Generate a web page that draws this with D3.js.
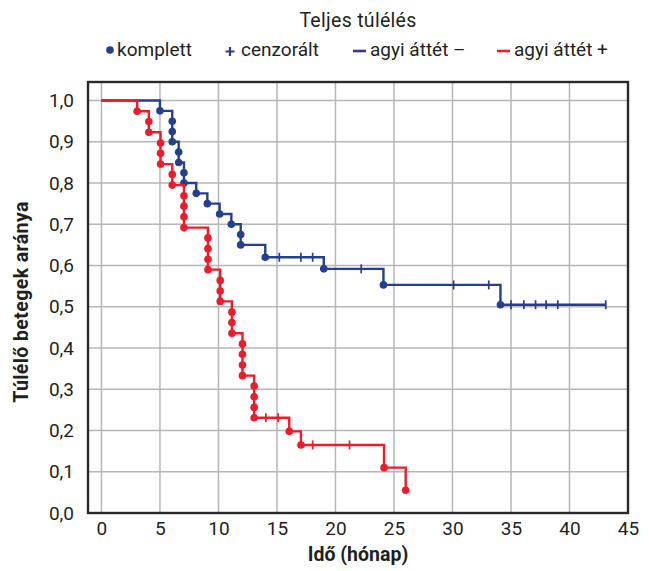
<!DOCTYPE html>
<html>
<head>
<meta charset="utf-8">
<script src="https://cdn.jsdelivr.net/npm/d3@7"></script>
<style>
  body { margin: 0; background: #fff; }
  svg text { font-family: Roboto, "Noto Sans", sans-serif; fill: #231f20; }
</style>
</head>
<body>
<script>
// agyi áttét – (blue): time and survival at each death, censored times
var blueTimes = [5, 6.05, 6.05, 6.05, 6.6, 6.6, 7.05, 7.05, 8.1, 9.05, 10.1, 11.1, 11.9, 11.9, 14, 19, 24.1, 34.1]
var blueSurv = [0.975, 0.95, 0.925, 0.90, 0.875, 0.85, 0.825, 0.80, 0.775, 0.75, 0.725, 0.70, 0.675, 0.65, 0.62, 0.592, 0.553, 0.505]
var blueCensored = [15.2, 17.05, 18.05, 22.2, 30.1, 33.1, 35, 36.1, 37.1, 38, 39, 43.1]

// agyi áttét + (red)
var redTimes = [3.05, 4.05, 4.05, 5.05, 5.05, 5.05, 6.05, 6.05, 7.05, 7.05, 7.05, 7.05,
    9.1, 9.1, 9.1, 9.1, 10.15, 10.15, 10.15, 11.15, 11.15, 11.15, 12.05, 12.05, 12.05, 12.05,
    13.05, 13.05, 13.05, 13.05, 16.05, 17.05, 24.15, 26]
var redSurv = [0.974, 0.949, 0.923, 0.897, 0.872, 0.846, 0.821, 0.795, 0.769, 0.744, 0.718, 0.692,
    0.667, 0.641, 0.615, 0.590, 0.564, 0.538, 0.513, 0.487, 0.462, 0.436, 0.410, 0.385, 0.359, 0.333,
    0.308, 0.282, 0.256, 0.231, 0.198, 0.165, 0.110, 0.055]
var redCensored = [14.05, 15.1, 18.05, 21.2]

var xTicks = [0, 5, 10, 15, 20, 25, 30, 35, 40, 45]
var yTicks = [0, 0.1, 0.2, 0.3, 0.4, 0.5, 0.6, 0.7, 0.8, 0.9, 1.0]

var blue = '#243f8e'
var red = '#ec1c2a'

var pLeft = 88, pTop = 82, pRight = 628, pBottom = 513

var svg = d3.select('body').append('svg')
    .attr('width', 649)
    .attr('height', 571)

var x = d3.scaleLinear().domain([-1.15, 45]).range([pLeft, pRight])
var y = d3.scaleLinear().domain([0, 1.045]).range([pBottom, pTop])

// grid
svg.append('g').selectAll('line')
    .data(xTicks)
    .enter()
    .append('line')
    .attr('x1', function (d) { return x(d) })
    .attr('x2', function (d) { return x(d) })
    .attr('y1', pTop)
    .attr('y2', pBottom)
    .attr('stroke', '#b6b6b8')
    .attr('stroke-width', 1.5)

svg.append('g').selectAll('line')
    .data(yTicks)
    .enter()
    .append('line')
    .attr('x1', pLeft)
    .attr('x2', pRight)
    .attr('y1', function (d) { return y(d) })
    .attr('y2', function (d) { return y(d) })
    .attr('stroke', '#b6b6b8')
    .attr('stroke-width', 1.5)

// axes labels
var xAxis = svg.append('g')
    .attr('transform', 'translate(0,' + pBottom + ')')
    .call(d3.axisBottom(x).tickValues(xTicks).tickSize(0).tickPadding(9))
xAxis.select('.domain').remove()
xAxis.selectAll('text').style('font-size', '19px').style('font-family', 'Roboto').style('fill', '#231f20')

var yAxis = svg.append('g')
    .attr('transform', 'translate(' + pLeft + ',0)')
    .call(d3.axisLeft(y).tickValues(yTicks).tickSize(0).tickPadding(14)
        .tickFormat(function (d) { return d3.format('.1f')(d).replace('.', ',') }))
yAxis.select('.domain').remove()
yAxis.selectAll('text').style('font-size', '19px').style('font-family', 'Roboto').style('fill', '#231f20')

function survAt(times, surv, t) {
    var s = 1
    for (var i = 0; i < times.length; i++) {
        if (times[i] <= t) s = surv[i]
    }
    return s
}

function drawGroup(times, surv, censored, color) {
    var pts = [[0, 1]]
    for (var i = 0; i < times.length; i++) pts.push([times[i], surv[i]])
    var lastT = d3.max(censored.concat(times))
    pts.push([lastT, survAt(times, surv, lastT)])

    var line = d3.line()
        .x(function (d) { return x(d[0]) })
        .y(function (d) { return y(d[1]) })
        .curve(d3.curveStepAfter)

    svg.append('path')
        .datum(pts)
        .attr('d', line)
        .attr('fill', 'none')
        .attr('stroke', color)
        .attr('stroke-width', 2.4)

    svg.append('g').selectAll('line')
        .data(censored)
        .enter()
        .append('line')
        .attr('x1', function (d) { return x(d) })
        .attr('x2', function (d) { return x(d) })
        .attr('y1', function (d) { return y(survAt(times, surv, d)) - 4.5 })
        .attr('y2', function (d) { return y(survAt(times, surv, d)) + 4.5 })
        .attr('stroke', color)
        .attr('stroke-width', 1.7)

    svg.append('g').selectAll('circle')
        .data(times)
        .enter()
        .append('circle')
        .attr('r', 3.8)
        .attr('cx', function (d) { return x(d) })
        .attr('cy', function (d, i) { return y(surv[i]) })
        .attr('fill', color)
}

drawGroup(blueTimes, blueSurv, blueCensored, blue)
drawGroup(redTimes, redSurv, redCensored, red)

// frame
svg.append('rect')
    .attr('x', pLeft)
    .attr('y', pTop)
    .attr('width', pRight - pLeft)
    .attr('height', pBottom - pTop)
    .attr('fill', 'none')
    .attr('stroke', '#2a2a2c')
    .attr('stroke-width', 2.4)

// titles
svg.append('text')
    .attr('x', 358)
    .attr('y', 561)
    .attr('text-anchor', 'middle')
    .style('font-size', '19.5px')
    .style('font-weight', 'bold')
    .text('Idő (hónap)')

svg.append('text')
    .attr('transform', 'translate(28,302) rotate(-90)')
    .attr('text-anchor', 'middle')
    .style('font-size', '19.5px')
    .style('font-weight', 'bold')
    .style('letter-spacing', '0.4px')
    .text('Túlélő betegek aránya')

// legend
svg.append('text')
    .attr('x', 358)
    .attr('y', 27)
    .attr('text-anchor', 'middle')
    .style('font-size', '19.5px')
    .style('letter-spacing', '0.3px')
    .text('Teljes túlélés')

var lg = svg.append('g').style('font-size', '19px')
lg.append('circle').attr('cx', 110).attr('cy', 50).attr('r', 3.8).attr('fill', blue)
lg.append('text').attr('x', 117).attr('y', 56).text('komplett')
lg.append('path').attr('d', 'M225.5,51.5h9M230,47v9').attr('stroke', blue).attr('stroke-width', 2.2)
lg.append('text').attr('x', 241).attr('y', 56).text('cenzorált')
lg.append('line').attr('x1', 353).attr('x2', 366).attr('y1', 51).attr('y2', 51).attr('stroke', blue).attr('stroke-width', 2.6)
lg.append('text').attr('x', 370).attr('y', 56).text('agyi áttét –')
lg.append('line').attr('x1', 497).attr('x2', 510).attr('y1', 51).attr('y2', 51).attr('stroke', red).attr('stroke-width', 2.6)
lg.append('text').attr('x', 514).attr('y', 56).text('agyi áttét +')
</script>
</body>
</html>
